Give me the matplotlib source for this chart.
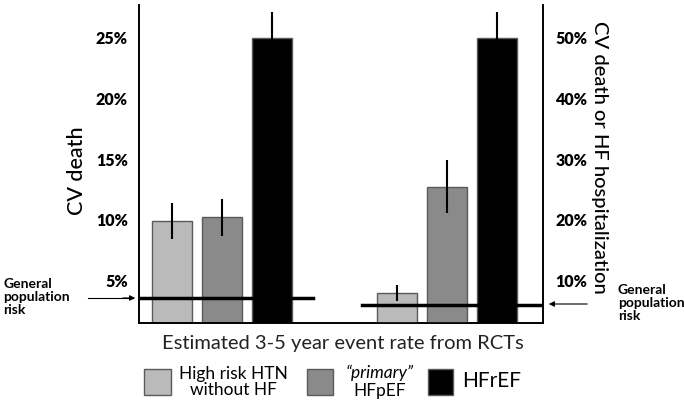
import numpy as np
import matplotlib
matplotlib.use('Agg')
from matplotlib import pyplot as plt
from matplotlib.patches import Rectangle

# data
groups = ['High risk HTN\nwithout HF', 'primary HFpEF', 'HFrEF']
colors = ['#bababa', '#8a8a8a', '#000000']
cv_death = [9.9, 10.2, 25.0]
cv_death_err = [1.5, 1.5, 2.1]
cv_death_hfh = [7.9, 25.5, 50.0]
cv_death_hfh_err = [1.3, 4.3, 4.2]
gen_pop_left = 3.57
gen_pop_right = 6.0
left_ticks = [5, 10, 15, 20, 25]
right_ticks = [10, 20, 30, 40, 50]

plt.rcParams['font.family'] = ['Lato', 'DejaVu Sans']

W, H = 684, 404
fig = plt.figure(figsize=(W/100, H/100), dpi=100)

def fx(px):
    return px/W
def fy(py):
    return 1-py/H

ax = fig.add_axes([fx(139), fy(323), (543-139)/W, (323-5)/H])
ax2 = ax.twinx()

x1 = np.arange(3)
x2 = x1+4.5
ax.bar(x1, cv_death, width=0.8, color=colors, edgecolor='#5a5a5a', lw=1, zorder=2)
ax.errorbar(x1, cv_death, yerr=cv_death_err, fmt='none', ecolor='k', elinewidth=1.5, capsize=0, zorder=3)
ax.plot([-0.66, 2.82], [gen_pop_left, gen_pop_left], 'k', lw=2.5, zorder=4)

ax2.bar(x2, cv_death_hfh, width=0.8, color=colors, edgecolor='#5a5a5a', lw=1, zorder=2)
ax2.errorbar(x2, cv_death_hfh, yerr=cv_death_hfh_err, fmt='none', ecolor='k', elinewidth=1.5, capsize=0, zorder=3)
ax2.plot([3.8, 7.42], [gen_pop_right, gen_pop_right], 'k', lw=2.5, zorder=4)

ax.set_xlim(-0.66, 7.42)
ax.set_ylim(1.51, 27.7)
ax2.set_ylim(3.02, 55.4)
ax.set_xticks([])

ax.set_yticks(left_ticks)
ax.set_yticklabels([str(t)+'%' for t in left_ticks], fontsize=11.5, fontweight='heavy')
ax.tick_params(axis='y', length=0, pad=8)
ax2.set_yticks(right_ticks)
ax2.set_yticklabels([str(t)+'%' for t in right_ticks], fontsize=11.5, fontweight='heavy')
ax2.tick_params(axis='y', length=0, pad=9)

for a in (ax, ax2):
    a.spines['top'].set_visible(False)
    for s in ['left', 'right', 'bottom']:
        a.spines[s].set_linewidth(1.2)

ax.set_ylabel('CV death', fontsize=15.5, fontweight='medium')
ax.yaxis.set_label_coords(-0.128, 0.48)
ax2.set_ylabel('CV death or HF hospitalization', fontsize=14.5, fontweight='medium', rotation=270, va='bottom')
ax2.yaxis.set_label_coords(1.12, 0.52)

# general population arrows and notes
fig.add_artist(plt.Line2D([fx(88), fx(133)], [fy(298), fy(298)], color='k', lw=0.8))
ax.annotate('', xy=(fx(138), fy(298)), xytext=(fx(120), fy(298)), xycoords='figure fraction',
            arrowprops=dict(arrowstyle='-|>', color='k', lw=0.8, mutation_scale=8))
fig.text(fx(3), fy(297), 'General\npopulation\nrisk', fontsize=10, fontweight='bold', va='center', linespacing=1.1)
ax.annotate('', xy=(fx(546), fy(304)), xytext=(fx(590), fy(304)), xycoords='figure fraction',
            arrowprops=dict(arrowstyle='-|>', color='k', lw=0.8, mutation_scale=8))
fig.text(fx(618), fy(303), 'General\npopulation\nrisk', fontsize=10, fontweight='bold', va='center', linespacing=1.1)

fig.text(fx(343), fy(344), 'Estimated 3-5 year event rate from RCTs', fontsize=14.5, ha='center', va='center', color='#222222')

# legend drawn by hand
boxes = [(144, 171), (307, 333), (428, 453)]
for (l, r), c in zip(boxes, colors):
    fig.add_artist(Rectangle((fx(l), fy(395)), (r-l)/W, 26/H, transform=fig.transFigure,
                             facecolor=c, edgecolor='#5a5a5a', lw=1))
fig.text(fx(233), fy(382), groups[0], fontsize=12.5, ha='center', va='center', linespacing=1.0)
fig.text(fx(380), fy(373), '\u201cprimary\u201d', fontsize=12.5, style='italic', ha='center', va='center')
fig.text(fx(380), fy(391), 'HFpEF', fontsize=12.5, ha='center', va='center')
fig.text(fx(462), fy(381), groups[2], fontsize=15, ha='left', va='center')

plt.savefig('out.png', dpi=100)
